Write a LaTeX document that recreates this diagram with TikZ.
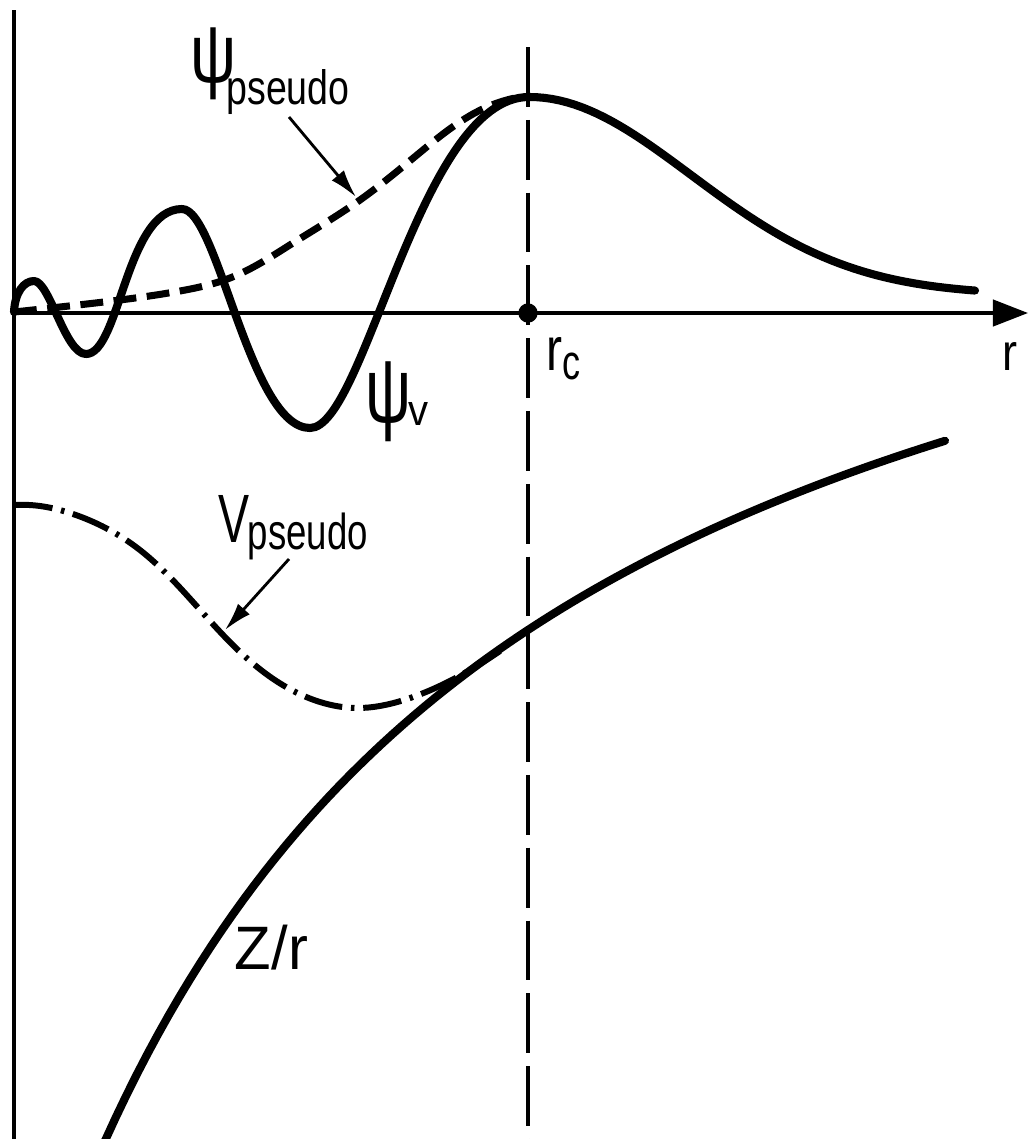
\documentclass[tikz,border=0pt]{standalone}
\usepackage{fontspec}
\usepackage{graphicx}
\usetikzlibrary{arrows.meta,hobby}
\newfontfamily\lf{Liberation Sans}
\newcommand\fb[3]{\resizebox*{#1}{#2}{\lf #3}}
\begin{document}
\begin{tikzpicture}[x=0.01cm,y=-0.01cm,
  lbl/.style={inner sep=0pt,outer sep=0pt},
  wave/.style={line width=2.3pt,line cap=round,line join=round},
  pdash/.style={line width=2pt,dash pattern=on 6.5pt off 3pt},
  vdashdot/.style={line width=1.7pt,dash pattern=on 11pt off 2.5pt on 1pt off 2.5pt},
  axisline/.style={line width=1pt},
  rcline/.style={line width=1pt,dash pattern=on 17pt off 3.7pt},
  pointer/.style={line width=0.8pt,-{Latex[length=8pt,width=4.5pt]}}]
\fill[white] (0,0) rectangle (1028,1139);
\useasboundingbox (0,0) rectangle (1028,1139);
\clip (0,0) rectangle (1028,1139);

% axes
\coordinate (O) at (14,313);
\coordinate (ytop) at (14,10);
\coordinate (ybot) at (14,1139);
\coordinate (xend) at (1028,313);
\draw[axisline] (ytop) -- (ybot);
\draw[axisline,-{Triangle[length=10pt,width=7.5pt]}] (O) -- (xend);

% r_c line and dot
\coordinate (rctop) at (528,47);
\coordinate (rcbot) at (528,1139);
\draw[rcline] (rctop) -- (rcbot);
\node[circle,fill=black,inner sep=0pt,minimum size=5.5pt] (rcdot) at (528,313) {};

% psi_v
\draw[wave] (14,312) .. controls (15,292) and (24,281) .. (34,281)
  .. controls (49.6,281) and (65.2,354) .. (86,354)
  .. controls (119.8,354) and (125.9,209) .. (182,209)
  .. controls (217.8,209) and (249.8,428) .. (310,428)
  .. controls (365,428) and (419.5,97) .. (529,97)
  -- plot[domain=529:975,samples=60] (\x,{97+198*(1-exp(-((\x-529)/229)^2))});

% psi_pseudo
\draw[pdash,use Hobby shortcut] (14,312) .. (60,307) .. (120,300) .. (180,291) .. (230,278) .. (293,243) .. (360,200) .. (423,150) .. (487,107) .. (515,98);

% Z/r
\draw[wave] plot[domain=105:945,samples=80] (\x,{20+5660/((\x+400)/100)});

% V_pseudo
\draw[vdashdot,use Hobby shortcut] (14,505) .. (40,506) .. (73,514) .. (136,547) .. (193,602) .. (250,661) .. (314,700) .. (357,708) .. (404,700) .. (470,670) .. (500,651);

% labels
\node[lbl] (psiP) at (214,64) {\fb{0.46cm}{0.72cm}{ψ}};
\node[lbl] (psiPsub) at (288,92.5) {\fb{1.23cm}{0.45cm}{pseudo}};
\node[lbl] (psiV) at (389,402) {\fb{0.46cm}{0.80cm}{ψ}};
\node[lbl] (psiVsub) at (418.5,413.5) {\fb{0.2cm}{0.23cm}{v}};
\node[lbl] (VP) at (234,518.5) {\fb{0.31cm}{0.47cm}{V}};
\node[lbl] (VPsub) at (308,536.5) {\fb{1.2cm}{0.47cm}{pseudo}};
\node[lbl] (Zr) at (271.5,947.5) {\fb{0.73cm}{0.45cm}{Z/r}};
\node[lbl] (rcr) at (554.5,353.5) {\fb{0.16cm}{0.33cm}{r}};
\node[lbl] (rcc) at (571.5,366.5) {\fb{0.18cm}{0.27cm}{c}};
\node[lbl] (raxis) at (1010,356) {\fb{0.15cm}{0.28cm}{r}};

% pointers
\coordinate (p1s) at (289,117);
\coordinate (p1e) at (356,197);
\draw[pointer] (p1s) -- (p1e);
\coordinate (p2s) at (289,559);
\coordinate (p2e) at (225,630);
\draw[pointer] (p2s) -- (p2e);
\end{tikzpicture}
\end{document}
